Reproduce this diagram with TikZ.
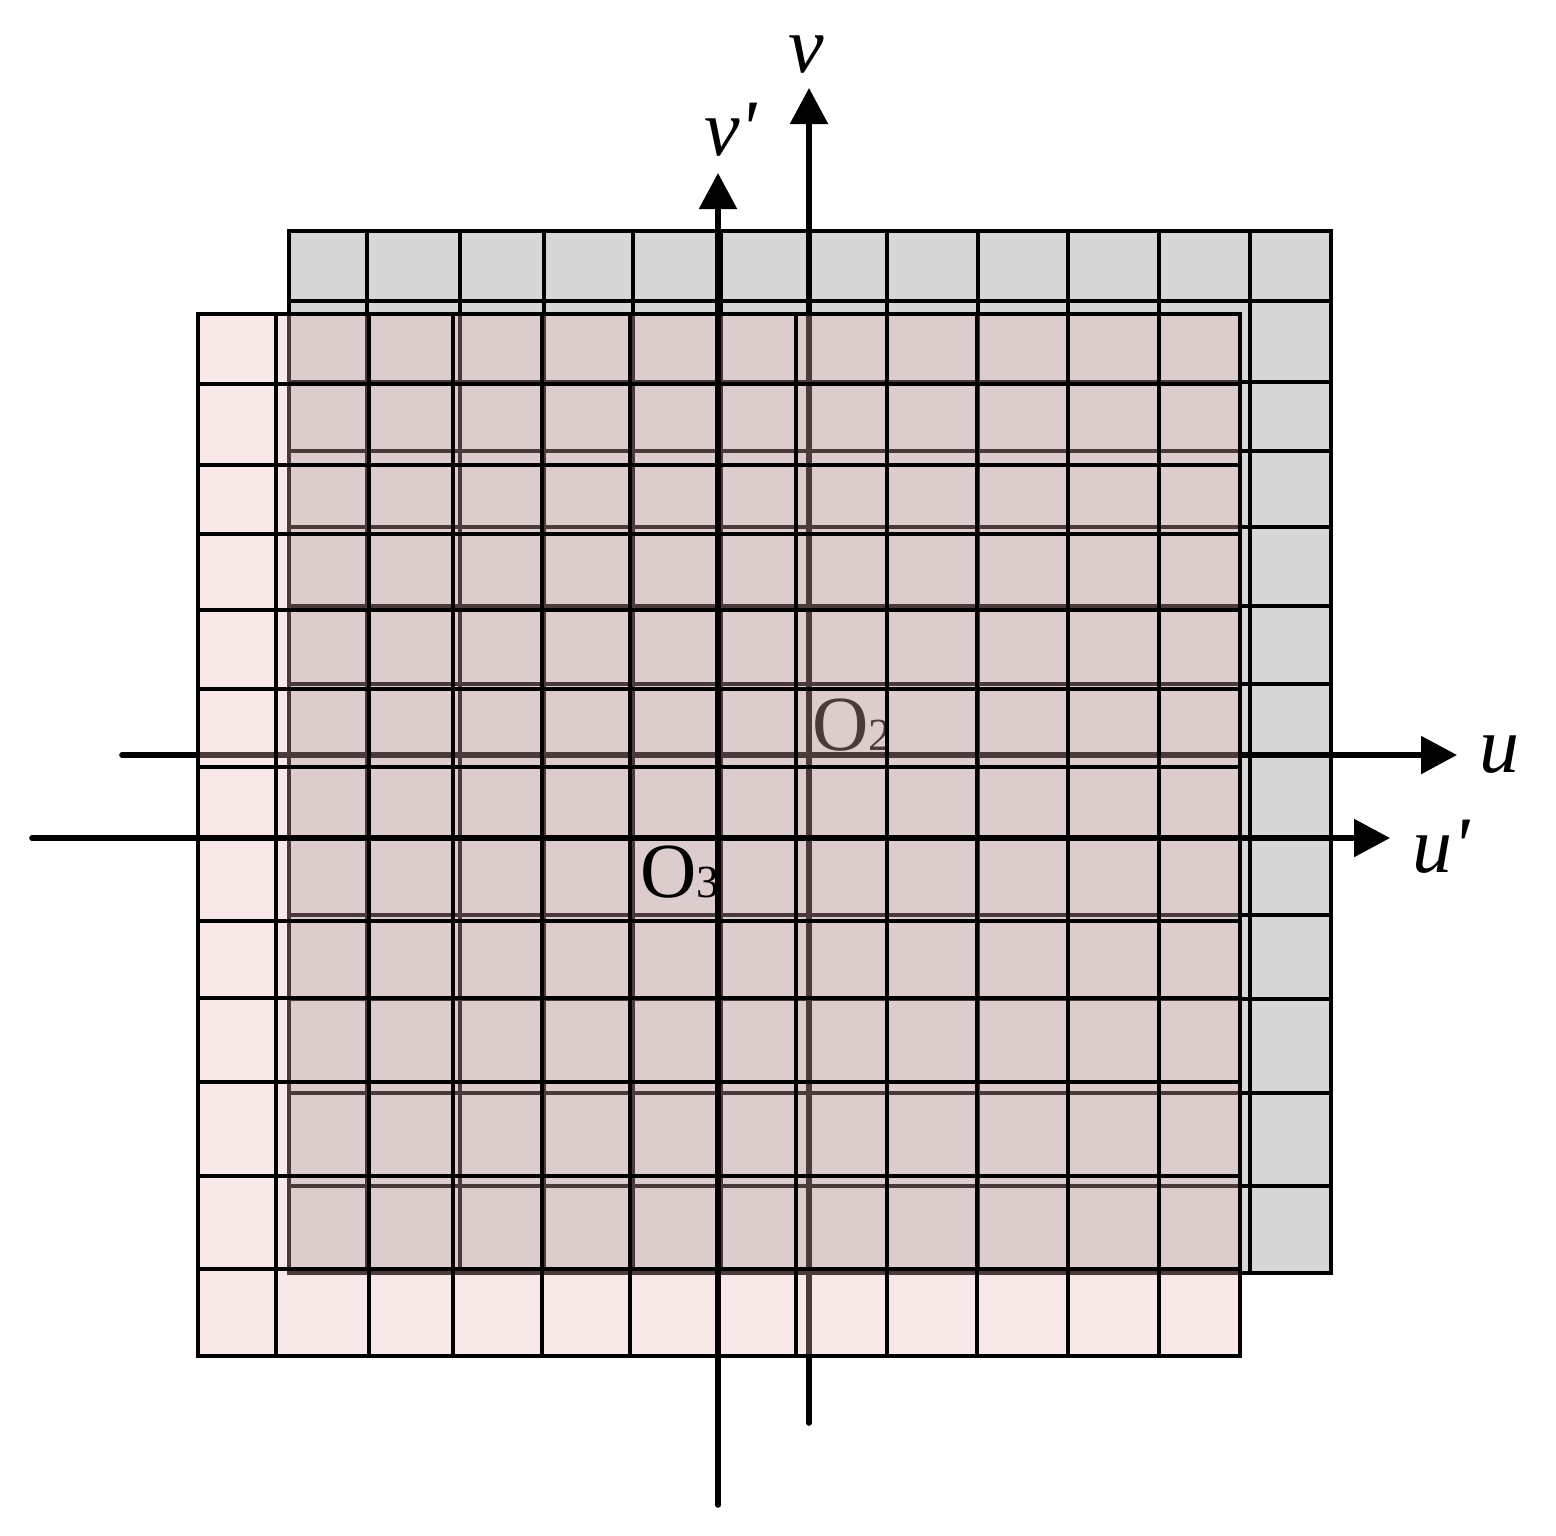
\documentclass[tikz,border=0pt]{standalone}
\usepackage{fontspec}
\newfontfamily\tnr{Liberation Serif}
\usetikzlibrary{arrows.meta}
\definecolor{graybg}{RGB}{215,215,215}
\definecolor{pinkbg}{RGB}{232,186,183}
\begin{document}
\begin{tikzpicture}[x=1pt,y=-1pt,
  gridline/.style={line width=3.4pt},
  frameline/.style={line width=4.4pt, line join=miter},
  axis/.style={line width=5.6pt, line cap=round, -{Triangle[length=36pt,width=37pt]}},
  lab/.style={inner sep=0pt, anchor=base west, font=\tnr\itshape\fontsize{80}{80}\selectfont},
  org/.style={inner sep=0pt, anchor=base west, font=\tnr\fontsize{78}{78}\selectfont}]
\useasboundingbox (0,0) rectangle (1556,1535);
\newcommand{\gridcols}{367,460,544,633,721,809,887,978,1068,1159,1250}
\newcommand{\gridrows}{301,382,451,527,606,684,755,838,915,999,1093,1186}
% ---- back (gray) grid ----
\fill[graybg] (289,231) rectangle (1331,1273);
\foreach \x in \gridcols {\draw[gridline] (\x,231) -- (\x,1273);}
\foreach \y in \gridrows {\draw[gridline] (289,\y) -- (1331,\y);}
\draw[frameline] (289,231) rectangle (1331,1273);
% axes of the back grid
\coordinate (us) at (122,755);
\coordinate (ue) at (1457,755);
\coordinate (vs) at (809,1423);
\coordinate (ve) at (809,88);
\draw[axis] (us) -- (ue);
\draw[axis] (vs) -- (ve);
\node[org] (O2) at (812,750) {O\fontsize{46}{46}\selectfont 2};
% ---- front (pink) grid ----
\begin{scope}[shift={(-91,83)}]
\fill[pinkbg, fill opacity=0.32] (289,231) rectangle (1331,1273);
\foreach \x in \gridcols {\draw[gridline] (\x,231) -- (\x,1273);}
\foreach \y in \gridrows {\draw[gridline] (289,\y) -- (1331,\y);}
\draw[frameline] (289,231) rectangle (1331,1273);
\end{scope}
% axes of the front grid
\coordinate (ups) at (32,838);
\coordinate (upe) at (1390,838);
\coordinate (vps) at (718,1505);
\coordinate (vpe) at (718,173);
\draw[axis] (ups) -- (upe);
\draw[axis] (vps) -- (vpe);
\node[org] (O3) at (640,897) {O\fontsize{46}{46}\selectfont 3};
% axis labels
\node[lab] (lu) at (1479,772) {u};
\node[lab] (lup) at (1412,872) {u'};
\node[lab] (lv) at (788,72) {v};
\node[lab] (lvp) at (704,155) {v'};
\end{tikzpicture}
\end{document}
